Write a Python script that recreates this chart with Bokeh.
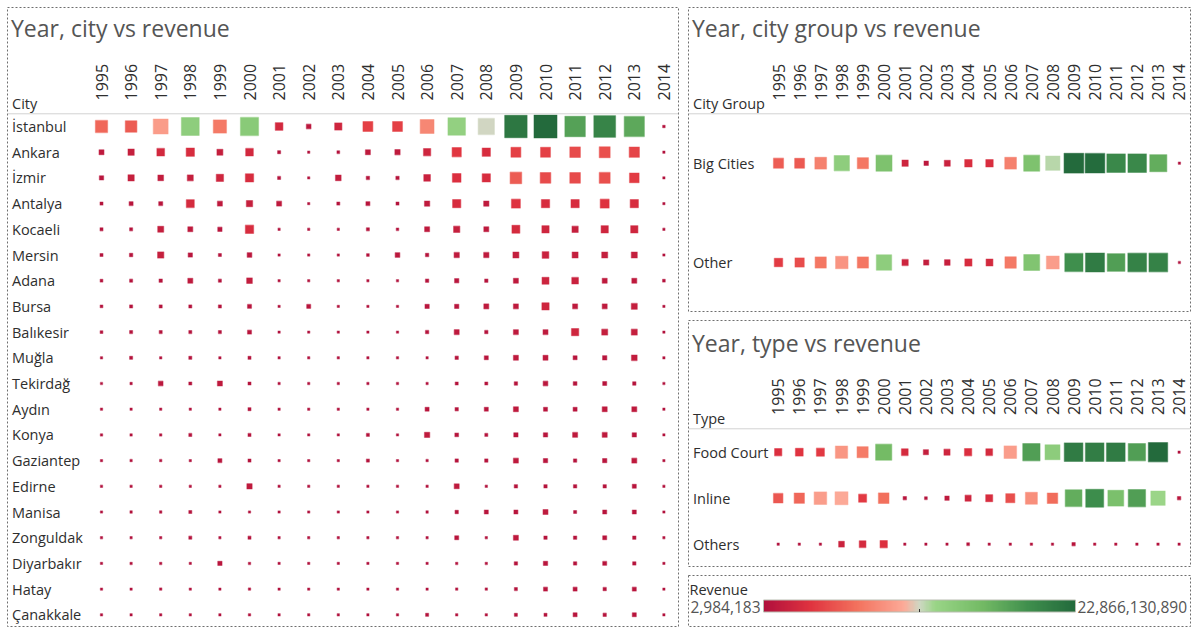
import math
import numpy as np
from bokeh.plotting import figure
from bokeh.models import Range1d, ColumnDataSource, LinearColorMapper, Span, Spacer
from bokeh.layouts import row, column
from bokeh.transform import transform
from bokeh.core.properties import value
from bokeh.embed import file_html
from bokeh.resources import INLINE

# ---------------- data (revenue, million TL) ----------------
years = list(range(1995, 2015))
year_labels = [str(y) for y in years]

cities = ["İstanbul", "Ankara", "İzmir", "Antalya", "Kocaeli", "Mersin", "Adana",
          "Bursa", "Balıkesir", "Muğla", "Tekirdağ", "Aydın", "Konya", "Gaziantep",
          "Edirne", "Manisa", "Zonguldak", "Diyarbakır", "Hatay", "Çanakkale"]

istanbul = [6371, 5765, 9475, 13645, 7449, 14104, 2496, 930, 2244, 4212, 4212, 8254, 13195, 11400, 21702, 22866, 18049, 20385, 17500, 263]
ankara = [1053, 1671, 2496, 2901, 1516, 2496, 379, 168, 307, 1053, 1183, 2244, 3641, 2901, 4212, 4212, 4822, 5096, 4468, 168]
izmir = [778, 1671, 1368, 1516, 2244, 2901, 379, 168, 1368, 458, 458, 1890, 3187, 2901, 5765, 4822, 4822, 5096, 3961, 168]
antalya = [379, 674, 674, 2695, 1053, 1671, 1053, 168, 379, 674, 379, 1183, 2901, 1183, 3410, 2901, 2901, 3410, 2901, 168]
kocaeli = [379, 379, 1516, 1053, 778, 2901, 168, 168, 168, 379, 263, 1053, 1671, 1053, 2695, 2244, 1671, 2244, 2244, 168]
mersin = [379, 458, 1671, 778, 379, 930, 168, 168, 168, 307, 930, 458, 1183, 1183, 1516, 1890, 1516, 1516, 1516, 168]
adana = [307, 379, 458, 1053, 379, 1368, 168, 168, 168, 168, 168, 458, 778, 458, 1053, 2063, 1890, 1053, 1053, 307]
bursa = [307, 379, 379, 379, 379, 674, 168, 674, 168, 168, 168, 778, 778, 1053, 1053, 2244, 1053, 1053, 1516, 168]
balikesir = [307, 379, 379, 379, 379, 674, 122, 122, 122, 122, 168, 458, 1053, 458, 1053, 1053, 2244, 1516, 1516, 168]
mugla = [168, 379, 223, 379, 223, 379, 122, 122, 122, 122, 168, 168, 458, 674, 1053, 1053, 674, 778, 1368, 168]
tekirdag = [168, 223, 930, 379, 1053, 379, 122, 122, 122, 122, 168, 168, 379, 379, 458, 930, 576, 674, 458, 168]
aydin = [168, 168, 168, 168, 168, 379, 122, 122, 122, 122, 168, 674, 458, 674, 1053, 674, 674, 1053, 1053, 168]
konya = [223, 223, 223, 379, 122, 379, 122, 71, 122, 379, 168, 1183, 576, 379, 778, 778, 1053, 1053, 778, 168]
gaziantep = [122, 223, 223, 168, 674, 379, 122, 71, 122, 379, 168, 223, 458, 458, 1053, 778, 458, 778, 1053, 168]
edirne = [122, 223, 223, 168, 168, 1183, 122, 71, 122, 122, 168, 223, 1053, 223, 458, 458, 458, 458, 674, 168]
manisa = [122, 223, 223, 379, 168, 168, 122, 71, 122, 122, 168, 223, 458, 674, 674, 1053, 379, 674, 674, 168]
zonguldak = [122, 122, 122, 379, 122, 379, 122, 71, 122, 122, 168, 122, 674, 223, 1053, 458, 458, 674, 458, 168]
diyarbakir = [122, 223, 223, 168, 778, 223, 122, 71, 122, 122, 168, 122, 223, 223, 458, 778, 458, 674, 458, 168]
hatay = [122, 122, 223, 168, 122, 223, 122, 71, 122, 122, 168, 122, 223, 223, 379, 674, 674, 458, 674, 168]
canakkale = [122, 122, 122, 168, 122, 223, 122, 71, 122, 122, 168, 379, 223, 223, 379, 379, 674, 458, 674, 168]
city_values = [istanbul, ankara, izmir, antalya, kocaeli, mersin, adana, bursa, balikesir,
               mugla, tekirdag, aydin, konya, gaziantep, edirne, manisa, zonguldak,
               diyarbakir, hatay, canakkale]

city_groups = ["Big Cities", "Other"]
big_cities = [8190, 7875, 11025, 18900, 10080, 20790, 3150, 1575, 2835, 4410, 4410, 11025, 20790, 16600, 31500, 31185, 27720, 27720, 23625, 315]
other_cities = [5670, 6930, 10080, 12600, 10080, 18900, 3150, 2205, 2520, 4095, 3780, 10395, 20475, 13230, 26775, 29295, 25200, 28350, 28350, 315]
group_values = [big_cities, other_cities]

types = ["Food Court", "Inline", "Others"]
food_court = [4662, 5328, 5661, 13320, 10989, 23310, 3996, 2331, 3330, 4662, 3996, 13986, 26640, 19980, 30969, 30636, 30969, 26640, 33300, 167]
inline = [7992, 9324, 13986, 14985, 5661, 9990, 999, 666, 1665, 3330, 4329, 7326, 12654, 9657, 24975, 28638, 22311, 26640, 18315, 999]
others = [266, 366, 366, 2897, 3996, 4762, 366, 266, 366, 666, 366, 366, 466, 366, 966, 466, 466, 466, 466, 266]
type_values = [food_court, inline, others]

legend_title = "Revenue"
legend_min = 2984183
legend_max = 22866130890
legend_min_label = "2,984,183"
legend_max_label = "22,866,130,890"

# ---------------- styling ----------------
FONT = value("Open Sans")
LABEL_COLOR = "#2e2e2e"
PAL_STOPS = [(0.00, "#b0103c"), (0.15, "#e0333f"), (0.30, "#f3725e"), (0.45, "#fcaa98"),
             (0.50, "#cfd8c4"), (0.55, "#9ad587"), (0.70, "#74bb65"), (0.85, "#3f8f4d"),
             (1.00, "#236a3c")]


def hex2rgb(h):
    return tuple(int(h[i:i + 2], 16) for i in (1, 3, 5))


def build_palette(n=256):
    out = []
    for k in range(n):
        t = k / (n - 1)
        for (p0, c0), (p1, c1) in zip(PAL_STOPS[:-1], PAL_STOPS[1:]):
            if t <= p1 + 1e-9:
                f = (t - p0) / (p1 - p0)
                a, b = hex2rgb(c0), hex2rgb(c1)
                rgb = [round(a[i] + (b[i] - a[i]) * f) for i in range(3)]
                out.append("#%02x%02x%02x" % tuple(rgb))
                break
    return out


PALETTE = build_palette()
MB = 1  # border around frame so the dotted outline is fully visible


def base_fig(w, h, xr, yr):
    p = figure(width=w, height=h, x_range=xr, y_range=yr, output_backend="svg",
               toolbar_location=None, x_axis_location=None, y_axis_location=None,
               min_border=MB, background_fill_color="white", border_fill_color="white")
    p.grid.visible = False
    p.outline_line_color = "#6e6e6e"
    p.outline_line_dash = "2 2"
    p.outline_line_width = 1
    return p


def grid_panel(w, h, col0, colstep, row0, rowstep, title, header, labels, values,
               max_side, title_y, years_y, header_y, sep_y):
    fw, fh = w - 2 * MB, h - 2 * MB
    c0, r0 = col0 - MB, row0 - MB
    xr = Range1d(years[0] - c0 / colstep, years[0] + (fw - c0) / colstep)
    yr = Range1d((fh - r0) / rowstep, -r0 / rowstep)
    p = base_fig(w, h, xr, yr)

    def fx(px):
        return years[0] + (px - MB - c0) / colstep

    def fy(py):
        return (py - MB - r0) / rowstep

    p.text(x=[fx(4.5)], y=[fy(title_y)], text=[title], text_font=FONT, text_font_size="23px",
           text_color="#555555", text_align="left", text_baseline="middle")
    p.text(x=years, y=[fy(years_y)] * len(years), text=year_labels, angle=math.pi / 2,
           text_font=FONT, text_font_size="16px", text_color=LABEL_COLOR,
           text_align="left", text_baseline="middle")
    p.text(x=[fx(5.5)], y=[fy(header_y)], text=[header], text_font=FONT, text_font_size="14.5px",
           text_color=LABEL_COLOR, text_align="left", text_baseline="middle")
    p.add_layout(Span(location=fy(sep_y), dimension="width", line_color="#d2d2d2", line_width=1))
    p.text(x=[fx(5.5)] * len(labels), y=list(range(len(labels))), text=labels, text_font=FONT,
           text_font_size="14.5px", text_color=LABEL_COLOR, text_align="left",
           text_baseline="middle")

    xs, ys, vs = [], [], []
    for j, rowvals in enumerate(values):
        for yv, v in zip(years, rowvals):
            xs.append(yv)
            ys.append(j)
            vs.append(v)
    vmax = max(vs)
    sizes = [max(2.2, max_side * math.sqrt(v / vmax)) for v in vs]
    src = ColumnDataSource(dict(x=xs, y=ys, v=vs, s=sizes))
    mapper = LinearColorMapper(palette=PALETTE, low=min(vs), high=vmax)
    p.rect(x="x", y="y", width="s", height="s", width_units="screen", height_units="screen",
           source=src, fill_color=transform("v", mapper), line_color=transform("v", mapper),
           line_alpha=0.45, line_width=1.2)
    return p


left = grid_panel(673, 621, 95, 29.6, 120, 25.7, "Year, city vs revenue", "City",
                  cities, city_values, 23.0, 21, 94, 97.3, 107.3)
top_right = grid_panel(504, 306, 91, 21.1, 156.7, 99.3, "Year, city group vs revenue",
                       "City Group", city_groups, group_values, 19.7, 21, 94, 96.6, 107.3)
mid_right = grid_panel(504, 248, 90.7, 21.1, 132.7, 46.0, "Year, type vs revenue", "Type",
                       types, type_values, 19.3, 23, 95.5, 98.6, 109.3)

# ---------------- legend ----------------
LW, LH = 504, 53
lg = base_fig(LW, LH, Range1d(0, LW - 2 * MB), Range1d(0, LH - 2 * MB))
bar_l, bar_r, bar_b, bar_t = 75, 387, 14.5, 26.5
ramp = np.linspace(legend_min, legend_max, 256).reshape(1, 256)
lmapper = LinearColorMapper(palette=PALETTE, low=legend_min, high=legend_max)
lg.image(image=[ramp], x=bar_l, y=bar_b, dw=bar_r - bar_l, dh=bar_t - bar_b, color_mapper=lmapper)
lg.quad(left=[bar_l], right=[bar_r], bottom=[bar_b], top=[bar_t], fill_color=None,
        line_color="#b8bcb0", line_width=1)
mid = (bar_l + bar_r) / 2
lg.segment(x0=[mid], x1=[mid], y0=[bar_b], y1=[bar_b + 3], line_color="#333333", line_width=1)
lg.text(x=[1], y=[37.5], text=[legend_title], text_font=FONT, text_font_size="14.5px",
        text_color=LABEL_COLOR, text_align="left", text_baseline="middle")
lg.text(x=[bar_l - 3], y=[20], text=[legend_min_label], text_font=FONT, text_font_size="15.5px",
        text_color="#555555", text_align="right", text_baseline="middle")
lg.text(x=[bar_r + 2], y=[20], text=[legend_max_label], text_font=FONT, text_font_size="15.5px",
        text_color="#555555", text_align="left", text_baseline="middle")

right_col = column(top_right, Spacer(width=504, height=7), mid_right,
                   Spacer(width=504, height=7), lg)
body = row(Spacer(width=6, height=621), left, Spacer(width=8, height=621), right_col)
layout = column(Spacer(width=1191, height=6), body)

open("out.html", "w").write(file_html(layout, INLINE))
